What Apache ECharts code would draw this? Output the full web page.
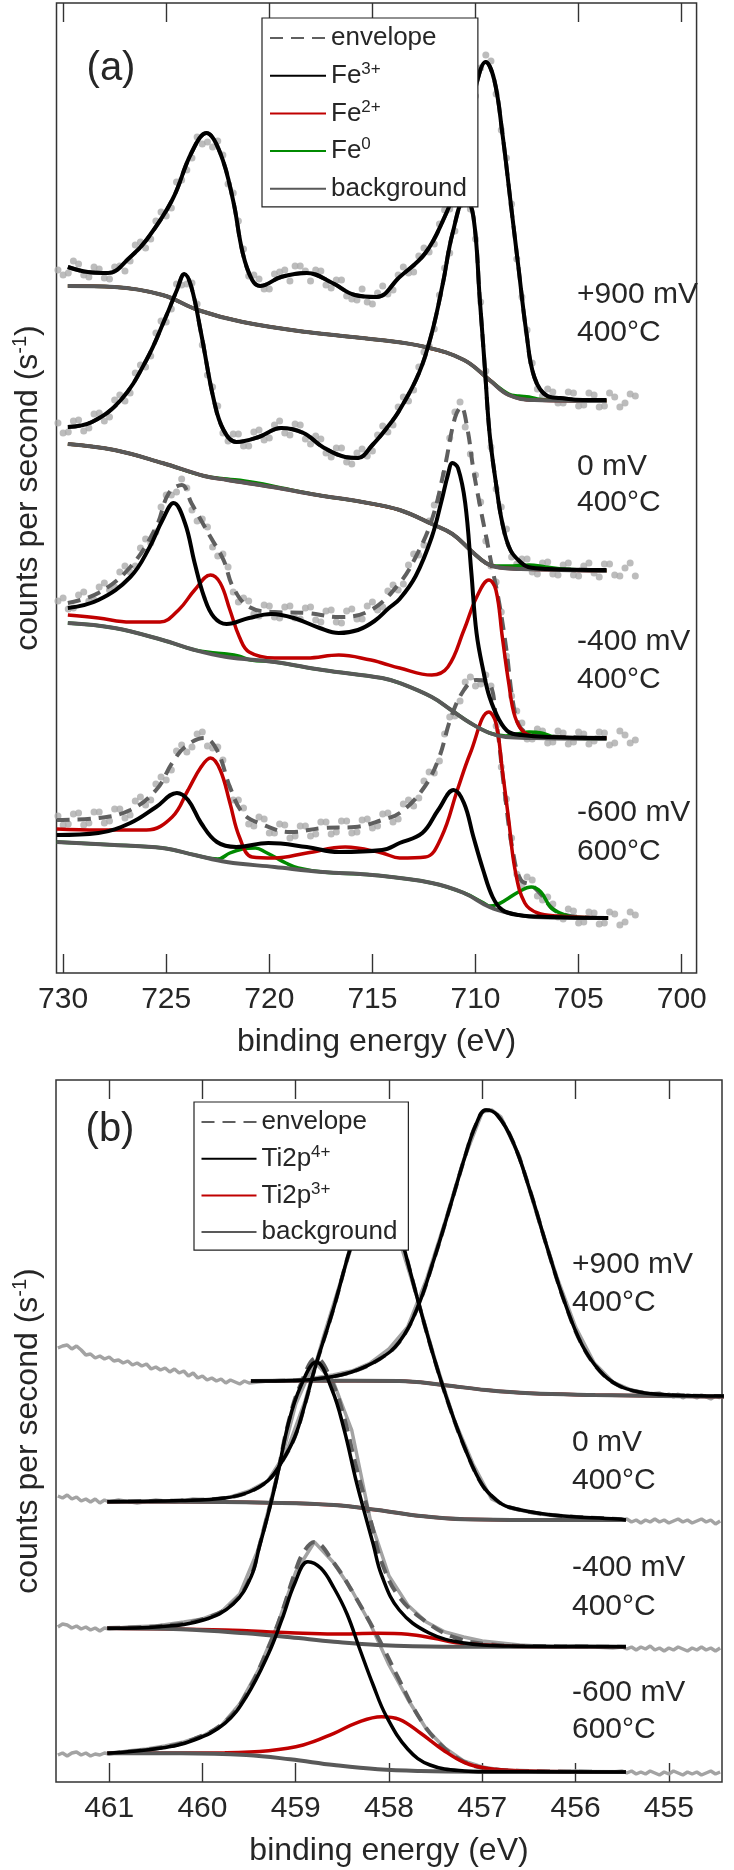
<!DOCTYPE html>
<html><head><meta charset="utf-8">
<script src="https://cdn.jsdelivr.net/npm/echarts@6/dist/echarts.min.js"></script>
<style>html,body{margin:0;padding:0;background:#fff}#chart{width:734px;height:1870px}</style>
</head><body><div id="chart"></div>
<script>
// ---------- tick labels ----------
const ticksA = [700, 705, 710, 715, 720, 725, 730];
const ticksB = [455, 456, 457, 458, 459, 460, 461];

// ---------- panel (a) Fe 2p : measured points (two interleaved energy grids + counts) ----------
const gridA = [730.25,729.75,729.25,728.75,728.25,727.75,727.25,726.75,726.25,725.75,725.25,724.75,724.25,723.75,723.25,722.75,722.25,721.75,721.25,720.75,720.25,719.75,719.25,718.75,718.25,717.75,717.25,716.75,716.25,715.75,715.25,714.75,714.25,713.75,713.25,712.75,712.25,711.75,711.25,710.75,710.25,709.75,709.25,708.75,708.25,707.75,707.25,706.75,706.25,705.75,705.25,704.75,704.25,703.75,703.25,702.75,702.25];
const gridAm = [730.0,729.5,729.0,728.5,728.0,727.5,727.0,726.5,726.0,725.5,725.0,724.5,724.0,723.5,723.0,722.5,722.0,721.5,721.0,720.5,720.0,719.5,719.0,718.5,718.0,717.5,717.0,716.5,716.0,715.5,715.0,714.5,714.0,713.5,713.0,712.5,712.0,711.5,711.0,710.5,710.0,709.5,709.0,708.5,708.0,707.5,707.0,706.5,706.0,705.5,705.0,704.5,704.0,703.5,703.0,702.5];
const dotsA900 = [703,700,709,696,704,694,707,712,731,734,761,765,793,815,829,826,818,780,724,698,684,699,703,707,702,703,688,693,677,673,671,680,679,698,700,717,721,749,764,806,852,905,912,843,769,676,610,577,581,570,580,568,578,567,576,570,577];
const dotsA900m = [698,712,698,706,695,706,702,728,725,752,757,791,803,836,831,832,789,752,697,694,684,701,692,707,692,702,685,693,674,684,669,687,683,706,701,725,729,763,776,837,877,918,879,815,714,643,584,584,570,581,567,580,566,580,566,579];
const dotsA0 = [550,541,553,545,560,556,578,580,608,617,652,664,688,690,628,586,540,539,527,541,533,548,540,549,534,537,520,525,511,520,517,538,541,566,572,606,627,678,720,768,764,671,526,466,416,414,401,410,399,408,398,407,400,409,398,405,397];
const dotsA0m = [540,552,542,559,552,573,572,600,606,640,651,689,689,669,598,567,532,539,527,543,535,552,538,548,529,534,516,525,509,524,522,547,548,576,583,621,644,705,742,783,734,602,484,444,409,414,399,411,398,410,397,410,396,409,397,410];
const dotsA400 = [372,364,378,372,386,383,401,401,425,430,466,478,494,463,454,426,419,381,375,359,368,356,366,355,365,353,362,351,362,354,367,363,382,383,408,418,452,475,535,571,519,471,407,361,277,250,234,242,231,240,231,239,232,240,230,238,233];
const dotsA400m = [375,365,381,373,390,386,407,407,434,441,478,481,485,452,446,417,406,371,372,357,367,355,367,354,366,351,363,350,364,354,371,366,388,389,419,428,468,499,561,546,498,432,391,317,262,234,244,230,242,229,241,229,241,228,242,230];
const dotsA600 = [157,149,160,150,161,152,164,158,176,173,196,203,228,226,241,225,213,173,165,147,154,140,148,137,147,139,151,141,152,141,154,147,160,154,173,175,201,212,256,272,296,289,287,206,135,88,93,73,69,54,62,51,60,50,59,51,58];
const dotsA600m = [148,159,148,161,150,164,155,172,168,189,193,222,221,239,227,226,186,173,149,156,140,149,135,147,137,151,139,152,140,153,145,159,151,169,167,192,200,239,257,291,287,298,247,174,99,96,77,76,56,64,50,61,49,61,48,61];

// ---------- panel (a) fitted components [eV, counts] ----------
const fe3_900 = [[729.77,706],[728.8,701],[727.82,700],[726.74,716],[725.96,733],[724.71,773],[723.78,820],[723.05,840],[722.38,820],[721.76,773],[721.29,720],[720.83,693],[720.44,687],[719.43,696],[718.18,700],[716.94,690],[715.85,678],[714.8,676],[713.68,696],[712.43,720],[711.5,756],[710.95,786],[710.41,840],[709.94,890],[709.51,911],[709.09,893],[708.7,840],[708.31,773],[707.92,706],[707.53,640],[707.15,596],[706.52,577],[705.9,575],[704.8,573],[703.65,573]];
const bg_900 = [[729.77,687],[727.51,686],[725.18,678],[723.47,663],[721.29,651],[718.18,641],[714.61,633],[712.43,626],[710.56,613],[709.32,593],[708.39,578],[707.15,573],[703.65,572]];
const fe0_900 = [[729.77,687],[727.51,686],[725.18,678],[723.47,663],[721.29,651],[718.18,641],[714.61,633],[712.43,626],[710.56,613],[709.32,593],[708.39,579],[707.9,577],[707.4,576],[707.0,574],[706.4,573],[703.65,572]];

const fe3_0 = [[729.77,546],[728.6,551],[727.2,573],[725.96,613],[725.02,656],[724.48,683],[724.12,699],[723.78,686],[723.31,640],[722.69,573],[722.22,543],[721.6,531],[720.51,536],[719.43,545],[718.34,540],[717.41,526],[716.32,516],[715.7,515],[715.0,528],[714.3,545],[713.68,563],[712.74,600],[712.12,640],[711.58,690],[711.11,740],[710.49,776],[710.1,756],[709.79,673],[709.55,606],[709.32,540],[709.01,490],[708.7,450],[708.31,423],[707.77,410],[707.45,406],[706.5,404],[703.65,403]];
const bg_0 = [[729.77,529],[727.51,523],[725.18,510],[723.16,497],[722.04,493],[719.86,486],[717.67,478],[715.49,471],[713.68,463],[712.12,449],[711.12,439],[710.2,422],[709.5,410],[709.0,406],[707.8,404],[703.65,402]];
const fe0_0 = [[729.77,529],[727.51,523],[725.18,510],[723.16,497],[722.04,494],[721.2,492],[720.3,489],[719.4,485],[717.67,478],[715.49,471],[713.68,463],[712.12,449],[711.12,439],[710.2,422],[709.5,410],[709.0,407],[708.2,407],[707.4,408],[706.6,406],[705.8,404],[703.65,402]];

const env_400 = [[729.77,370],[728.29,380],[726.74,406],[725.49,446],[724.87,480],[724.24,488],[723.78,470],[722.85,436],[722.22,413],[721.76,386],[720.98,366],[719.74,361],[718.18,360],[716.63,356],[715.07,363],[713.68,390],[712.9,416],[712.12,453],[711.5,505],[711.0,555],[710.7,566],[710.4,545],[710.1,503],[709.79,468],[709.48,436],[709.17,403],[708.85,370],[708.5,323],[708.2,273],[707.9,248],[707.5,240],[706.8,237],[703.65,235]];
const fe3_400 = [[729.77,365],[728.29,373],[726.74,396],[725.8,426],[725.18,453],[724.64,470],[724.09,450],[723.62,410],[723.16,376],[722.69,356],[722.07,349],[720.98,355],[719.89,359],[718.81,355],[717.56,345],[716.63,340],[715.7,343],[714.9,352],[714.2,365],[713.68,374],[712.9,397],[712.12,436],[711.65,472],[711.34,498],[711.12,510],[710.85,505],[710.5,470],[710.2,400],[709.95,340],[709.6,300],[709.32,276],[708.85,253],[708.39,241],[707.77,238],[706.5,236],[703.65,235]];
const fe2_400 = [[729.77,358],[728.29,355],[726.74,351],[725.3,351],[724.4,363],[723.62,383],[722.85,398],[722.38,390],[721.91,363],[721.45,336],[720.98,321],[719.74,315],[718.18,315],[716.63,318],[715.07,313],[714.53,310],[713.68,305],[712.12,298],[711.34,306],[710.56,343],[709.94,376],[709.35,393],[709.01,383],[708.7,336],[708.39,290],[708.08,256],[707.61,240],[706.83,236],[703.65,235]];
const fe0_400 = [[729.77,350],[727.51,345],[725.18,333],[723.62,323],[722.6,320],[722.07,319],[721.5,317],[720.9,313],[719.74,311],[717.41,303],[714.53,295],[713.68,290],[712.12,276],[711.18,263],[710.25,250],[709.32,240],[708.54,237],[708.0,239],[707.4,241],[706.8,240],[706.2,236],[705.5,235],[703.65,234]];
const bg_400 = [[729.77,350],[727.51,345],[725.18,333],[723.62,323],[722.07,316],[719.74,311],[717.41,303],[714.53,295],[713.68,290],[712.12,276],[711.18,263],[710.25,250],[709.32,240],[708.54,236],[707.15,235],[703.65,234]];

const env_600 = [[730.31,153],[728.29,155],[726.74,163],[725.49,183],[724.71,210],[724.09,226],[723.16,235],[722.54,223],[721.91,186],[721.29,160],[720.51,150],[718.96,141],[717.41,145],[715.85,146],[714.53,153],[713.68,160],[712.58,183],[711.81,213],[711.18,256],[710.56,283],[709.97,293],[709.35,290],[709.0,253],[708.6,183],[708.2,123],[707.8,93],[707.3,88],[706.8,78],[706.3,65],[705.8,59],[705.0,56],[703.57,55]];
const fe3_600 = [[730.31,138],[728.29,140],[726.74,150],[725.49,166],[724.48,180],[723.94,173],[723.31,150],[722.54,131],[721.6,126],[720.05,130],[718.18,126],[716.63,121],[714.53,123],[713.68,130],[712.58,140],[711.81,163],[711.06,183],[710.56,170],[710.1,136],[709.63,103],[709.17,76],[708.7,63],[707.92,58],[706.5,56],[703.57,55]];
const fe2_600 = [[730.31,144],[728.29,143],[725.96,143],[724.71,156],[723.94,183],[723.31,206],[722.85,215],[722.38,203],[721.91,170],[721.45,136],[720.83,116],[719.74,115],[718.18,120],[716.32,126],[714.53,120],[713.68,115],[712.43,116],[711.65,136],[710.88,183],[710.25,220],[709.35,261],[709.01,250],[708.7,203],[708.39,153],[708.08,103],[707.61,70],[706.99,60],[706.0,57],[703.57,55]];
const fe0_600 = [[730.31,131],[727.51,128],[725.18,125],[723.62,118],[722.5,114],[721.91,120],[721.3,124],[720.67,125],[720.2,121],[719.74,116],[719.2,110],[718.6,105],[717.41,101],[715.0,98],[712.12,90],[710.56,80],[709.6,70],[709.32,67],[708.9,69],[708.54,73],[707.92,81],[707.3,86],[706.83,81],[706.37,66],[705.9,60],[705.2,56],[703.57,55]];
const bg_600 = [[730.31,131],[727.51,128],[725.18,125],[723.62,118],[722.07,111],[719.74,106],[717.41,101],[715.0,98],[712.12,90],[710.56,80],[709.32,66],[708.39,60],[707.15,56],[703.57,55]];

// ---------- panel (b) Ti 2p : measured points [eV, counts] ----------
const dataB900 = [[461.55,434],[461.5,436],[461.45,437],[461.4,433],[461.35,436],[461.3,432],[461.25,427],[461.2,428],[461.15,424],[461.1,426],[461.05,423],[461.0,425],[460.95,421],[460.9,422],[460.85,419],[460.8,421],[460.75,417],[460.7,419],[460.65,416],[460.6,418],[460.55,413],[460.5,415],[460.45,412],[460.4,414],[460.35,410],[460.3,413],[460.25,409],[460.2,411],[460.15,406],[460.1,409],[460.05,404],[460.0,406],[459.95,402],[459.9,404],[459.85,401],[459.8,403],[459.75,399],[459.7,402],[459.65,400],[459.6,398],[459.55,401],[459.5,399],[459.3,401],[459.0,402],[458.8,404],[458.6,407],[458.4,411],[458.2,419],[458.0,433],[457.8,455],[457.6,502],[457.4,560],[457.2,622],[457.0,670],[456.9,672],[456.8,665],[456.6,625],[456.4,563],[456.2,505],[456.0,455],[455.8,419],[455.6,400],[455.4,392],[455.2,388],[455.1,389],[455.05,386],[455.0,388],[454.95,385],[454.9,388],[454.85,384],[454.8,387],[454.75,386],[454.7,384],[454.65,387],[454.6,385],[454.55,383],[454.5,386],[454.45,384]];
const dataB0 = [[461.55,286],[461.5,284],[461.45,287],[461.4,283],[461.35,285],[461.3,281],[461.25,283],[461.2,280],[461.15,283],[461.1,279],[461.05,282],[461.0,280],[460.9,282],[460.7,279],[460.5,282],[460.3,280],[460.1,283],[459.9,282],[459.7,285],[459.5,291],[459.3,301],[459.1,330],[458.9,381],[458.7,446],[458.5,506],[458.3,566],[458.1,597],[457.9,545],[457.7,485],[457.5,420],[457.3,362],[457.1,318],[456.9,283],[456.7,274],[456.5,270],[456.3,267],[456.1,265],[455.9,264],[455.7,263],[455.5,262],[455.45,263],[455.4,260],[455.35,262],[455.3,259],[455.25,262],[455.2,260],[455.15,263],[455.1,260],[455.05,262],[455.0,259],[454.95,261],[454.9,263],[454.85,260],[454.8,262],[454.75,259],[454.7,261],[454.65,263],[454.6,260],[454.55,262],[454.5,258],[454.45,261]];
const dataB400 = [[461.55,155],[461.5,158],[461.45,157],[461.4,154],[461.35,156],[461.3,153],[461.25,155],[461.2,152],[461.15,154],[461.1,151],[461.05,154],[461.0,153],[460.8,155],[460.5,156],[460.2,160],[460.0,163],[459.8,170],[459.6,188],[459.4,233],[459.2,306],[459.0,378],[458.8,420],[458.6,401],[458.4,352],[458.2,262],[458.0,206],[457.8,177],[457.6,160],[457.4,150],[457.2,145],[457.0,141],[456.8,139],[456.6,137],[456.4,136],[456.2,135],[456.0,136],[455.8,135],[455.6,134],[455.5,135],[455.45,133],[455.4,135],[455.35,132],[455.3,135],[455.25,133],[455.2,136],[455.15,132],[455.1,134],[455.05,131],[455.0,134],[454.95,132],[454.9,135],[454.85,133],[454.8,131],[454.75,134],[454.7,132],[454.65,135],[454.6,132],[454.55,134],[454.5,131],[454.45,134]];
const dataB600 = [[461.55,27],[461.5,29],[461.45,26],[461.4,29],[461.35,30],[461.3,27],[461.25,29],[461.2,26],[461.15,28],[461.1,27],[461.05,29],[461.0,28],[460.8,31],[460.6,33],[460.4,36],[460.2,40],[460.0,46],[459.8,56],[459.6,78],[459.4,112],[459.2,156],[459.0,210],[458.8,240],[458.6,220],[458.4,192],[458.2,158],[458.0,117],[457.8,83],[457.6,53],[457.4,34],[457.2,21],[457.0,15],[456.8,12],[456.6,11],[456.4,10],[456.2,10],[456.0,11],[455.8,10],[455.6,10],[455.5,11],[455.45,9],[455.4,11],[455.35,8],[455.3,10],[455.25,8],[455.2,11],[455.15,9],[455.1,7],[455.05,10],[455.0,8],[454.95,11],[454.9,9],[454.85,7],[454.8,10],[454.75,8],[454.7,10],[454.65,7],[454.6,9],[454.55,11],[454.5,8],[454.45,10]];

// ---------- panel (b) fitted components [eV, counts] ----------
const ti4_900 = [[459.48,401],[459.0,401.5],[458.7,404],[458.4,410],[458.1,423],[457.89,440],[457.7,473],[457.52,522],[457.33,580],[457.19,624],[457.07,657],[456.96,672],[456.84,667],[456.67,640],[456.49,592],[456.3,533],[456.11,478],[455.93,437],[455.74,411],[455.55,397],[455.32,390],[454.99,387],[454.41,386]];
const bgB_900 = [[459.48,401],[458.83,401.3],[457.89,401],[457.42,397],[456.96,392],[456.49,388.7],[455.79,387],[455.08,386],[454.41,385.3]];
const ti4_0 = [[461.02,280.3],[460.23,281.5],[459.76,284],[459.5,290],[459.29,302],[459.15,320],[459.01,345],[458.9,378],[458.8,412],[458.59,475],[458.42,532],[458.25,578],[458.12,598],[457.98,582],[457.87,545],[457.7,485],[457.52,425],[457.35,375],[457.17,330],[457.0,297],[456.85,282],[456.72,275],[456.25,267],[455.55,263],[455.46,262]];
const bgB_0 = [[461.02,280.3],[460.23,280.3],[459.29,279.3],[458.59,277],[458.12,272],[457.66,266],[457.19,262.7],[456.49,262],[455.46,262]];
const envB_400 = [[461.02,154],[460.46,156],[459.99,163],[459.67,179],[459.48,206],[459.39,236],[459.29,271],[459.2,306],[459.08,359],[458.95,397],[458.78,424],[458.61,400],[458.48,364],[458.36,318],[458.27,287],[458.17,252],[458.08,220],[457.89,185],[457.57,158],[457.28,144],[456.96,138],[456.49,136],[455.46,135.3]];
const ti4_400 = [[461.02,153.7],[460.46,155.3],[459.99,162],[459.67,178],[459.48,205],[459.39,235],[459.29,270],[459.2,305],[459.08,358],[458.95,395],[458.78,420],[458.61,392],[458.48,352],[458.36,304],[458.27,272],[458.17,238],[458.08,207],[457.89,172],[457.57,149],[457.19,139],[456.72,136],[456.02,135.5],[455.46,135.3]];
const ti3_400 = [[461.02,153.7],[459.76,152],[459.06,149.3],[458.59,148],[458.12,148.7],[457.8,147.7],[457.52,143.7],[457.28,139.3],[456.96,137],[456.49,135.3],[455.46,135.3]];
const bgB_400 = [[461.02,153.7],[460.23,152.7],[459.53,148.7],[459.06,144.7],[458.59,140.3],[458.12,137],[457.42,135.3],[456.49,135.3],[455.46,135.3]];
const envB_600 = [[461.02,28.7],[460.46,34],[460.09,43],[459.76,60],[459.53,88],[459.29,135],[459.15,169],[459.01,209],[458.92,229],[458.8,240],[458.59,219],[458.36,185],[458.12,145],[457.89,102],[457.66,62],[457.42,35],[457.19,20],[456.96,13.7],[456.49,11],[455.46,10]];
const ti4_600 = [[461.02,28.7],[460.46,33.7],[460.09,42],[459.76,58.7],[459.53,85.3],[459.29,128.7],[459.15,162],[459.01,198.7],[458.87,220.3],[458.73,213.7],[458.59,194],[458.45,168],[458.31,132],[458.17,97],[458.03,66],[457.8,33],[457.56,17],[457.19,11],[456.96,10.3],[455.46,10]];
const ti3_600 = [[461.02,28.7],[459.76,29.3],[459.29,31.3],[458.92,37],[458.59,48.7],[458.36,58.7],[458.08,65.3],[457.89,62.7],[457.66,48.7],[457.42,32],[457.19,19.3],[456.96,13.7],[456.49,11],[455.46,10]];
const bgB_600 = [[461.02,28.7],[460.23,28.7],[459.53,27],[459.06,22.7],[458.59,17],[458.12,12.7],[457.66,11],[456.96,10.3],[455.46,10]];

// ---------- annotations ----------
const labelsA = [['+900 mV', 295], ['400°C', 333], ['0 mV', 467], ['400°C', 503], ['-400 mV', 642], ['400°C', 680], ['-600 mV', 813], ['600°C', 852]];
const labelsB = [['+900 mV', 1265], ['400°C', 1303], ['0 mV', 1443], ['400°C', 1481], ['-400 mV', 1568], ['400°C', 1607], ['-600 mV', 1693], ['600°C', 1730]];

// ---------- styles ----------
const FONT = "'Liberation Sans', Arial, Helvetica, sans-serif";
const TXT = '#262626';
const C = { env: '#5f5f5f', black: '#000000', red: '#c00000', green: '#008a00', bg: '#595959' };

function fit(name, data, color, width, xi, yi, dashed) {
  return { type: 'line', name: name, data: data, xAxisIndex: xi, yAxisIndex: yi, symbol: 'none', smooth: 0.4,
    silent: true, lineStyle: { color: color, width: width, type: dashed ? [13, 8] : 'solid', cap: 'butt' }, itemStyle: { color: color } };
}
function dotsA(vals, valsM) {
  const pts = gridA.map((e, i) => [e, vals[i]]).concat(gridAm.map((e, i) => [e, valsM[i]]));
  return { type: 'scatter', name: 'data', data: pts, xAxisIndex: 0, yAxisIndex: 0, symbol: 'circle', symbolSize: 7, silent: true,
    itemStyle: { color: '#ababab' } };
}
function dotsB(data) {
  return { type: 'line', name: 'data', data: data, xAxisIndex: 2, yAxisIndex: 1, symbol: 'none', silent: true,
    lineStyle: { color: '#a3a3a3', width: 3.5 } };
}

const series = [
  dotsA(dotsA900, dotsA900m), dotsA(dotsA0, dotsA0m), dotsA(dotsA400, dotsA400m), dotsA(dotsA600, dotsA600m),
  fit('envelope', fe3_900, C.env, 4, 0, 0, true), fit('envelope', fe3_0, C.env, 4, 0, 0, true),
  fit('envelope', env_400, C.env, 4, 0, 0, true), fit('envelope', env_600, C.env, 4, 0, 0, true),
  fit('Fe0', fe0_900, C.green, 3.5, 0, 0), fit('Fe0', fe0_0, C.green, 3.5, 0, 0),
  fit('Fe0', fe0_400, C.green, 3.5, 0, 0), fit('Fe0', fe0_600, C.green, 3.5, 0, 0),
  fit('Fe2+', bg_900, C.red, 3.5, 0, 0), fit('Fe2+', bg_0, C.red, 3.5, 0, 0),
  fit('Fe2+', fe2_400, C.red, 3.5, 0, 0), fit('Fe2+', fe2_600, C.red, 3.5, 0, 0),
  fit('background', bg_900, C.bg, 4, 0, 0), fit('background', bg_0, C.bg, 4, 0, 0),
  fit('background', bg_400, C.bg, 4, 0, 0), fit('background', bg_600, C.bg, 4, 0, 0),
  fit('Fe3+', fe3_900, C.black, 4, 0, 0), fit('Fe3+', fe3_0, C.black, 4, 0, 0),
  fit('Fe3+', fe3_400, C.black, 4, 0, 0), fit('Fe3+', fe3_600, C.black, 4, 0, 0),

  dotsB(dataB900), dotsB(dataB0), dotsB(dataB400), dotsB(dataB600),
  fit('envelope', ti4_900, C.env, 4, 2, 1, true), fit('envelope', ti4_0, C.env, 4, 2, 1, true),
  fit('envelope', envB_400, C.env, 4, 2, 1, true), fit('envelope', envB_600, C.env, 4, 2, 1, true),
  fit('Ti2p3+', bgB_900, C.red, 3.5, 2, 1), fit('Ti2p3+', bgB_0, C.red, 3.5, 2, 1),
  fit('Ti2p3+', ti3_400, C.red, 3.5, 2, 1), fit('Ti2p3+', ti3_600, C.red, 3.5, 2, 1),
  fit('background', bgB_900, C.bg, 4, 2, 1), fit('background', bgB_0, C.bg, 4, 2, 1),
  fit('background', bgB_400, C.bg, 4, 2, 1), fit('background', bgB_600, C.bg, 4, 2, 1),
  fit('Ti2p4+', ti4_900, C.black, 3.5, 2, 1), fit('Ti2p4+', ti4_0, C.black, 3.5, 2, 1),
  fit('Ti2p4+', ti4_400, C.black, 3.5, 2, 1), fit('Ti2p4+', ti4_600, C.black, 3.5, 2, 1)
];

const legendNames = { 'Fe3+': 'Fe{s|3+}', 'Fe2+': 'Fe{s|2+}', 'Fe0': 'Fe{s|0}', 'Ti2p4+': 'Ti2p{s|4+}', 'Ti2p3+': 'Ti2p{s|3+}' };
const legendText = { fontSize: 26, fontFamily: FONT, color: TXT, lineHeight: 30,
  rich: { s: { fontSize: 17, lineHeight: 17, verticalAlign: 'top', fontFamily: FONT, color: TXT } } };
function legendFmt(n) { return legendNames[n] || n; }

function xAx(grid, min, max, ticks, pos) {
  const bottom = pos === 'bottom';
  return { gridIndex: grid, type: 'value', min: min, max: max, inverse: true, position: pos,
    axisLine: { show: false }, splitLine: { show: false },
    axisTick: { show: true, inside: true, length: 19, customValues: ticks, lineStyle: { color: '#333', width: 1.4 } },
    axisLabel: bottom ? { show: true, customValues: ticks, margin: 12, fontSize: 30, fontFamily: FONT, color: TXT } : { show: false },
    name: bottom ? 'binding energy (eV)' : '', nameLocation: 'middle', nameGap: 53,
    nameTextStyle: { fontSize: 32, fontFamily: FONT, color: TXT } };
}
function yAx(grid, max) {
  return { gridIndex: grid, type: 'value', min: 0, max: max,
    axisLine: { show: false }, axisTick: { show: false }, axisLabel: { show: false }, splitLine: { show: false },
    name: 'counts per second (s{s|-1})', nameLocation: 'middle', nameGap: 10,
    nameTextStyle: { fontSize: 32, fontFamily: FONT, color: TXT, lineHeight: 36,
      rich: { s: { fontSize: 20, lineHeight: 20, verticalAlign: 'top', fontFamily: FONT, color: TXT } } } };
}

const graphic = [];
labelsA.forEach(l => graphic.push({ type: 'text', silent: true, style: { text: l[0], x: 577, y: l[1], font: '30px ' + FONT, fill: TXT, textAlign: 'left', textVerticalAlign: 'middle' } }));
labelsB.forEach(l => graphic.push({ type: 'text', silent: true, style: { text: l[0], x: 572, y: l[1], font: '30px ' + FONT, fill: TXT, textAlign: 'left', textVerticalAlign: 'middle' } }));
graphic.push({ type: 'text', silent: true, style: { text: '(a)', x: 111, y: 69, font: '40px ' + FONT, fill: TXT, textAlign: 'center', textVerticalAlign: 'middle' } });
graphic.push({ type: 'text', silent: true, style: { text: '(b)', x: 110, y: 1130, font: '40px ' + FONT, fill: TXT, textAlign: 'center', textVerticalAlign: 'middle' } });

const legendCommon = { orient: 'vertical', itemWidth: 56, itemHeight: 14, selectedMode: false,
  backgroundColor: '#fff', borderColor: '#222', borderWidth: 1.2, textStyle: legendText, formatter: legendFmt, z: 10,
  itemStyle: { opacity: 0, borderWidth: 0 } };

const option = {
  animation: false,
  backgroundColor: '#ffffff',
  grid: [
    { left: 56.5, top: 3, width: 665.5, height: 970, show: true, borderColor: '#333', borderWidth: 1.5, backgroundColor: 'rgba(0,0,0,0)' },
    { left: 56, top: 1080, width: 666, height: 702, show: true, borderColor: '#333', borderWidth: 1.5, backgroundColor: 'rgba(0,0,0,0)' }
  ],
  xAxis: [
    xAx(0, 699.28, 730.32, ticksA, 'bottom'), xAx(0, 699.28, 730.32, ticksA, 'top'),
    xAx(1, 454.43, 461.57, ticksB, 'bottom'), xAx(1, 454.43, 461.57, ticksB, 'top')
  ],
  yAxis: [yAx(0, 970), yAx(1, 702)],
  legend: [
    Object.assign({ data: ['envelope', 'Fe3+', 'Fe2+', 'Fe0', 'background'], left: 262, top: 18,
      padding: [5, 11, 3, 7], itemGap: 7.7 }, legendCommon),
    Object.assign({ data: ['envelope', 'Ti2p4+', 'Ti2p3+', 'background'], left: 194, top: 1102,
      padding: [5, 11, 3, 6.5], itemGap: 6.7 }, legendCommon, { itemWidth: 55 })
  ],
  graphic: graphic,
  series: series
};

const chart = echarts.init(document.getElementById('chart'), null, { renderer: 'canvas', width: 734, height: 1870 });
chart.setOption(option);
</script>
</body></html>
